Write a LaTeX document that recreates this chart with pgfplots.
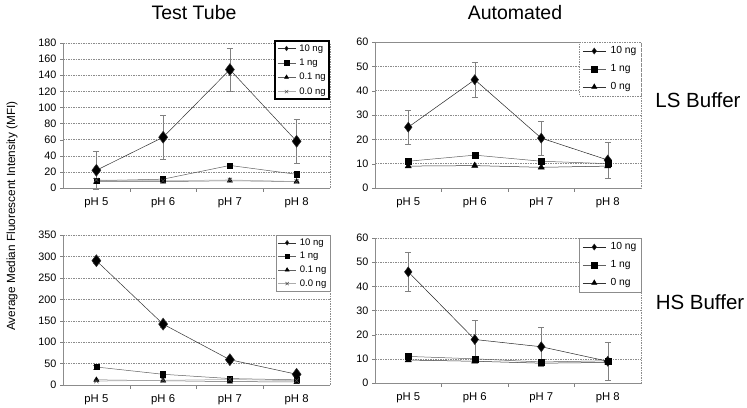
\documentclass[border=0pt]{standalone}
\usepackage{fontspec}
\setmainfont{Liberation Sans}
\usepackage{pgfplots}
\pgfplotsset{compat=1.18}
\definecolor{gridc}{gray}{0.55}
\pgfplotsset{
  panel/.style={
    scale only axis,
    xmin=-0.5, xmax=3.5,
    xtick={0,1,2,3},
    xticklabels={pH 5,pH 6,pH 7,pH 8},
    minor xtick={0.5,1.5,2.5},
    major x tick style={draw=none},
    minor x tick style={gray},
    tick align=outside,
    xtick pos=bottom, ytick pos=left,
    major tick length=3pt, minor tick length=4pt,
    y tick style={gray},
    ymajorgrids,
    major grid style={gridc, dash pattern=on 1.5pt off 1pt, line width=0.4pt},
    axis line style={gridc, dash pattern=on 1.5pt off 1pt, line width=0.4pt},
    yticklabel style={font=\fontsize{10.8}{12}\selectfont},
    xticklabel style={font=\fontsize{11.3}{13}\selectfont, yshift=-3pt},
    /pgf/number format/assume math mode=true,
    legend cell align=left,
    clip=false,
    after end axis/.code={\draw[gray!90, line width=0.6pt] (rel axis cs:0,1) -- (rel axis cs:0,0) -- (rel axis cs:1,0);},
  },
  limgT/.style={legend image code/.code={\draw (0pt,0pt) -- (18pt,0pt); \draw plot coordinates {(9pt,0pt)};}},
  limgA/.style={legend image code/.code={\draw (0pt,0pt) -- (23pt,0pt); \draw plot coordinates {(11.5pt,0pt)};}},
  errs/.style={error bars/y dir=both, error bars/y explicit,
    error bars/error bar style={gray, line width=0.4pt, solid},
    error bars/error mark options={gray, rotate=90, mark size=3pt, line width=0.4pt, solid}},
  sA/.style={black!80, line width=0.5pt, mark=diamond*, mark size=6pt, mark options={solid, fill=black}},
  sB/.style={gray!75!black, line width=0.5pt, mark=square*, mark size=2.6pt, mark options={solid, fill=black, draw=black}},
  sC/.style={gray!75!black, line width=0.5pt, mark=triangle*, mark size=3pt, mark options={solid, fill=black, draw=black}},
  sD/.style={gray!65, line width=0.5pt, mark=x, mark size=3pt, mark options={solid, draw=gray!60!black}},
}
\begin{document}
\begin{tikzpicture}
\useasboundingbox (0pt,0pt) rectangle (747pt,407pt);

% Titles
\node[font=\fontsize{19.5}{22}\selectfont] at (194pt,394pt) {Test Tube};
\node[font=\fontsize{19.5}{22}\selectfont] at (515pt,394pt) {Automated};
\node[font=\fontsize{20.5}{23}\selectfont] at (698pt,307pt) {LS Buffer};
\node[font=\fontsize{20.5}{23}\selectfont] at (700pt,105pt) {HS Buffer};
\node[font=\fontsize{11.8}{14}\selectfont, rotate=90] at (12pt,191pt) {Average Median Fluorescent Intensity (MFI)};

% Top-left: Test Tube, LS
\begin{axis}[panel, limgT, at={(63pt,219pt)}, anchor=south west, width=267pt, height=145pt,
  ymin=0, ymax=180, ytick={0,20,...,180},
  legend style={at={(rel axis cs:1,1.02)}, anchor=north east, draw=black, line width=1.6pt,
    font=\fontsize{9.5}{11}\selectfont, inner sep=2pt, row sep=3.3pt, nodes={inner sep=1.5pt},
    /tikz/every odd column/.append style={column sep=2pt}},
  legend image post style={mark size=2.3pt}]
\addplot[sA, errs] table[x=x, y=y, y error=e] {
x y e
0 22 24
1 63 27
2 147 27
3 58 27
};
\addlegendentry{10 ng}
\addplot[sB, errs] table[x=x, y=y, y error=e] {
x y e
0 9 3
1 11 3
2 28 3
3 17 3
};
\addlegendentry{1 ng}
\addplot[sC] table[x=x, y=y] {
x y
0 8
1 8
2 9
3 8
};
\addlegendentry{0.1 ng}
\addplot[sD] table[x=x, y=y] {
x y
0 10
1 9
2 10
3 8
};
\addlegendentry{0.0 ng}
\end{axis}

% Top-right: Automated, LS
\begin{axis}[panel, limgA, at={(375pt,219pt)}, anchor=south west, width=266pt, height=146pt,
  ymin=0, ymax=60, ytick={0,10,...,60},
  legend style={at={(rel axis cs:1,1)}, anchor=north east, draw=gridc, line width=0.4pt, dash pattern=on 1.5pt off 1pt,
    font=\fontsize{10.3}{12}\selectfont, inner sep=3pt, row sep=6.3pt, nodes={inner sep=1.5pt},
    /tikz/every odd column/.append style={column sep=3pt}},
  legend image post style={mark size=3pt}]
\addplot[sA, errs, black!85, mark size=5pt] table[x=x, y=y, y error=e] {
x y e
0 25 7
1 44.5 7
2 20.5 7
3 11.5 7.5
};
\addlegendentry{10 ng}
\addplot[sB, mark size=3pt] table[x=x, y=y] {
x y
0 11
1 13.5
2 11
3 10
};
\addlegendentry{1 ng}
\addplot[sC, black!80, mark size=3.5pt] table[x=x, y=y] {
x y
0 9
1 9.2
2 8.5
3 9
};
\addlegendentry{0 ng}
\end{axis}

% Bottom-left: Test Tube, HS
\begin{axis}[panel, limgT, at={(63pt,22pt)}, anchor=south west, width=267pt, height=150pt,
  ymin=0, ymax=350, ytick={0,50,...,350},
  legend style={at={(rel axis cs:1,1)}, anchor=north east, draw=gridc, line width=0.4pt,
    font=\fontsize{9.5}{11}\selectfont, inner sep=2pt, row sep=2.5pt, nodes={inner sep=1.5pt},
    /tikz/every odd column/.append style={column sep=2pt}},
  legend image post style={mark size=2.3pt}]
\addplot[sA, errs] table[x=x, y=y, y error=e] {
x y e
0 290 5
1 142 6
2 59 5
3 25 4
};
\addlegendentry{10 ng}
\addplot[sB, errs] table[x=x, y=y, y error=e] {
x y e
0 42 5
1 25 3
2 15 3
3 12 2
};
\addlegendentry{1 ng}
\addplot[sC] table[x=x, y=y] {
x y
0 12
1 10
2 8
3 7
};
\addlegendentry{0.1 ng}
\addplot[sD] table[x=x, y=y] {
x y
0 9
1 11
2 13
3 10
};
\addlegendentry{0.0 ng}
\end{axis}

% Bottom-right: Automated, HS
\begin{axis}[panel, limgA, at={(375pt,24pt)}, anchor=south west, width=266pt, height=145pt,
  ymin=0, ymax=60, ytick={0,10,...,60},
  legend style={at={(rel axis cs:1,1)}, anchor=north east, draw=gridc, line width=0.4pt,
    font=\fontsize{10.3}{12}\selectfont, inner sep=3pt, row sep=6.3pt, nodes={inner sep=1.5pt},
    /tikz/every odd column/.append style={column sep=3pt}},
  legend image post style={mark size=3pt}]
\addplot[sA, errs, black!85, mark size=5pt] table[x=x, y=y, y error=e] {
x y e
0 46 8
1 18 8
2 15 8
3 9 8
};
\addlegendentry{10 ng}
\addplot[sB, mark size=3pt] table[x=x, y=y] {
x y
0 11
1 10
2 8.7
3 9.2
};
\addlegendentry{1 ng}
\addplot[sC, black!80, mark size=3.5pt] table[x=x, y=y] {
x y
0 9.5
1 9
2 8.2
3 8.5
};
\addlegendentry{0 ng}
\end{axis}
\end{tikzpicture}
\end{document}
